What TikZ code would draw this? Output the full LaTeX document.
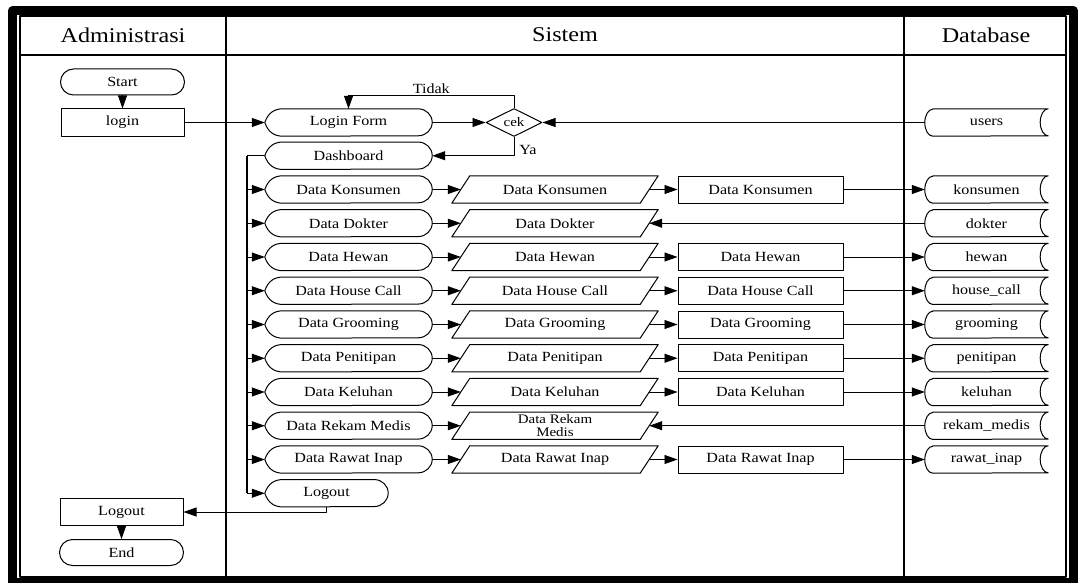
\documentclass[tikz,border=0pt]{standalone}
\usepackage{fontspec}
\setmainfont{Liberation Serif}[FakeStretch=1.15]
\usetikzlibrary{arrows.meta,shapes.geometric,shapes.misc}

\tikzset{
  lbl/.style={font=\fontsize{14}{15}\selectfont, inner sep=0pt},
  shapeline/.style={line width=1pt},
  dispbox/.style={lbl, minimum width=167pt, minimum height=27pt},
  iobox/.style={lbl, minimum width=188pt, minimum height=27pt},
  procbox/.style={lbl, draw, shapeline, minimum width=165pt, minimum height=27pt},
  tablebox/.style={lbl, minimum width=123pt, minimum height=27pt},
  termbox/.style={lbl, draw, shapeline, rounded rectangle, minimum width=124pt, minimum height=26pt},
  actbox/.style={lbl, draw, shapeline, minimum width=123pt, minimum height=27pt},
  decbox/.style={lbl, draw, shapeline, diamond, aspect=2, minimum width=56pt, minimum height=28pt, font=\fontsize{13}{14}\selectfont},
  arr/.style={line width=0.8pt, -{Triangle[length=13pt,width=9pt]}},
  conn/.style={line width=0.8pt},
  lane/.style={line width=1.3pt},
  head/.style={font=\fontsize{21}{23}\selectfont}
}

% outlines drawn from the anchors of a named node
\newcommand{\dispshape}[1]{%
  \draw[shapeline] (#1.west) .. controls +(3pt,9pt) and +(-9pt,0pt) .. ([xshift=18pt]#1.north west)
    -- ([xshift=-14pt]#1.north east) arc[start angle=90, end angle=-90, x radius=14pt, y radius=13.5pt]
    -- ([xshift=18pt]#1.south west) .. controls +(-9pt,0pt) and +(3pt,-9pt) .. (#1.west) -- cycle;}
\newcommand{\ioshape}[1]{%
  \draw[shapeline] ([xshift=9pt]#1.north west) -- ([xshift=9pt]#1.north east)
    -- ([xshift=-9pt]#1.south east) -- ([xshift=-9pt]#1.south west) -- cycle;}
\newcommand{\tableshape}[1]{%
  \draw[shapeline] ([xshift=8pt]#1.north west) -- (#1.north east)
    arc[start angle=90, end angle=270, x radius=8pt, y radius=13.5pt]
    -- ([xshift=8pt]#1.south west)
    arc[start angle=270, end angle=90, x radius=8pt, y radius=13.5pt] -- cycle;}

\begin{document}
\begin{tikzpicture}[x=1pt, y=1pt, line join=round]
\useasboundingbox (0,0) rectangle (1078,-583);
% frame and lanes
\draw[line width=9pt] (12.5,-11) rectangle (1073.5,-582);
\draw[lane] (20,-16) rectangle (1066,-577);
\draw[lane] (20,-55) -- (1066,-55);
\draw[lane] (226,-16) -- (226,-577);
\draw[lane] (904,-16) -- (904,-577);
\node[head] (hAdm) at (123,-35) {Administrasi};
\node[head] (hSys) at (565,-35) {Sistem};
\node[head] (hDb) at (986,-35) {Database};

% Administrasi
\node[termbox] (start) at (122.5,-82) {Start};
\node[actbox] (login) at (122.5,-122.5) {login};
\node[actbox] (logoutA) at (121.5,-512) {Logout};
\node[termbox] (end) at (121.5,-552.5) {End};

% Sistem
\node[dispbox] (dLogin) at (348.5,-122.5) {Login Form};
\node[decbox] (cek) at (514,-122.5) {cek};
\node[dispbox] (dDash) at (348.5,-155.75) {Dashboard};
\node[dispbox] (dKonsumen) at (348.5,-189.5) {Data Konsumen};
\node[dispbox] (dDokter) at (348.5,-223.25) {Data Dokter};
\node[dispbox] (dHewan) at (348.5,-257) {Data Hewan};
\node[dispbox] (dHouse) at (348.5,-290.75) {Data House Call};
\node[dispbox] (dGrooming) at (348.5,-324.5) {Data Grooming};
\node[dispbox] (dPenitipan) at (348.5,-358.25) {Data Penitipan};
\node[dispbox] (dKeluhan) at (348.5,-392) {Data Keluhan};
\node[dispbox] (dRekam) at (348.5,-425.75) {Data Rekam Medis};
\node[dispbox] (dRawat) at (348.5,-459.5) {Data Rawat Inap};
\node[dispbox, minimum width=123pt] (dLogout) at (326.5,-493.25) {Logout};

\node[iobox] (iKonsumen) at (555,-189.5) {Data Konsumen};
\node[iobox] (iDokter) at (555,-223.25) {Data Dokter};
\node[iobox] (iHewan) at (555,-257) {Data Hewan};
\node[iobox] (iHouse) at (555,-290.75) {Data House Call};
\node[iobox] (iGrooming) at (555,-324.5) {Data Grooming};
\node[iobox] (iPenitipan) at (555,-358.25) {Data Penitipan};
\node[iobox] (iKeluhan) at (555,-392) {Data Keluhan};
\node[iobox, align=center, font=\fontsize{13}{12.5}\selectfont] (iRekam) at (555,-425.75) {Data Rekam\\Medis};
\node[iobox] (iRawat) at (555,-459.5) {Data Rawat Inap};

\node[procbox] (pKonsumen) at (760.5,-189.5) {Data Konsumen};
\node[procbox] (pHewan) at (760.5,-257) {Data Hewan};
\node[procbox] (pHouse) at (760.5,-290.75) {Data House Call};
\node[procbox] (pGrooming) at (760.5,-324.5) {Data Grooming};
\node[procbox] (pPenitipan) at (760.5,-358.25) {Data Penitipan};
\node[procbox] (pKeluhan) at (760.5,-392) {Data Keluhan};
\node[procbox] (pRawat) at (760.5,-459.5) {Data Rawat Inap};

% Database
\node[tablebox] (tUsers) at (986.5,-122.5) {users};
\node[tablebox] (tKonsumen) at (986.5,-189.5) {konsumen};
\node[tablebox] (tDokter) at (986.5,-223.25) {dokter};
\node[tablebox] (tHewan) at (986.5,-257) {hewan};
\node[tablebox] (tHouse) at (986.5,-290.75) {house\_call};
\node[tablebox] (tGrooming) at (986.5,-324.5) {grooming};
\node[tablebox] (tPenitipan) at (986.5,-358.25) {penitipan};
\node[tablebox] (tKeluhan) at (986.5,-392) {keluhan};
\node[tablebox] (tRekam) at (986.5,-425.75) {rekam\_medis};
\node[tablebox] (tRawat) at (986.5,-459.5) {rawat\_inap};

\foreach \n in {dLogin,dDash,dKonsumen,dDokter,dHewan,dHouse,dGrooming,dPenitipan,dKeluhan,dRekam,dRawat,dLogout} \dispshape{\n};
\foreach \n in {Konsumen,Dokter,Hewan,House,Grooming,Penitipan,Keluhan,Rekam,Rawat} \ioshape{i\n};
\foreach \n in {Users,Konsumen,Dokter,Hewan,House,Grooming,Penitipan,Keluhan,Rekam,Rawat} \tableshape{t\n};

% connectors
\draw[arr] (start.south) -- (login.north);
\draw[arr] (login.east) -- (dLogin.west);
\draw[arr] (dLogin.east) -- (cek.west);
\draw[arr] (tUsers.west) -- (cek.east);
\draw[arr] (cek.north) -- ++(0,13) -| node[pos=0.25, above, lbl, inner sep=0.5pt] {Tidak} (dLogin.north);
\draw[arr] (cek.south) |- node[pos=0.35, right, lbl, inner sep=5pt] {Ya} (dDash.east);
\coordinate (busTop) at (247,-155.75);
\coordinate (busBot) at (247,-493.25);
\draw[conn] (dDash.west) -- (busTop);
\draw[line width=1.6pt] (busTop) -- (busBot);
\foreach \n in {dKonsumen,dDokter,dHewan,dHouse,dGrooming,dPenitipan,dKeluhan,dRekam,dRawat,dLogout}
  \draw[arr] (busTop |- \n.west) -- (\n.west);
\foreach \n in {Konsumen,Dokter,Hewan,House,Grooming,Penitipan,Keluhan,Rekam,Rawat}
  \draw[arr] (d\n.east) -- (i\n.west);
\foreach \n in {Konsumen,Hewan,House,Grooming,Penitipan,Keluhan,Rawat} {
  \draw[arr] (i\n.east) -- (p\n.west);
  \draw[arr] (p\n.east) -- (t\n.west);
}
\foreach \n in {Dokter,Rekam}
  \draw[arr] (t\n.west) -- (i\n.east);
\draw[arr] (dLogout.south) |- (logoutA.east);
\draw[arr] (logoutA.south) -- (end.north);
\end{tikzpicture}
\end{document}
